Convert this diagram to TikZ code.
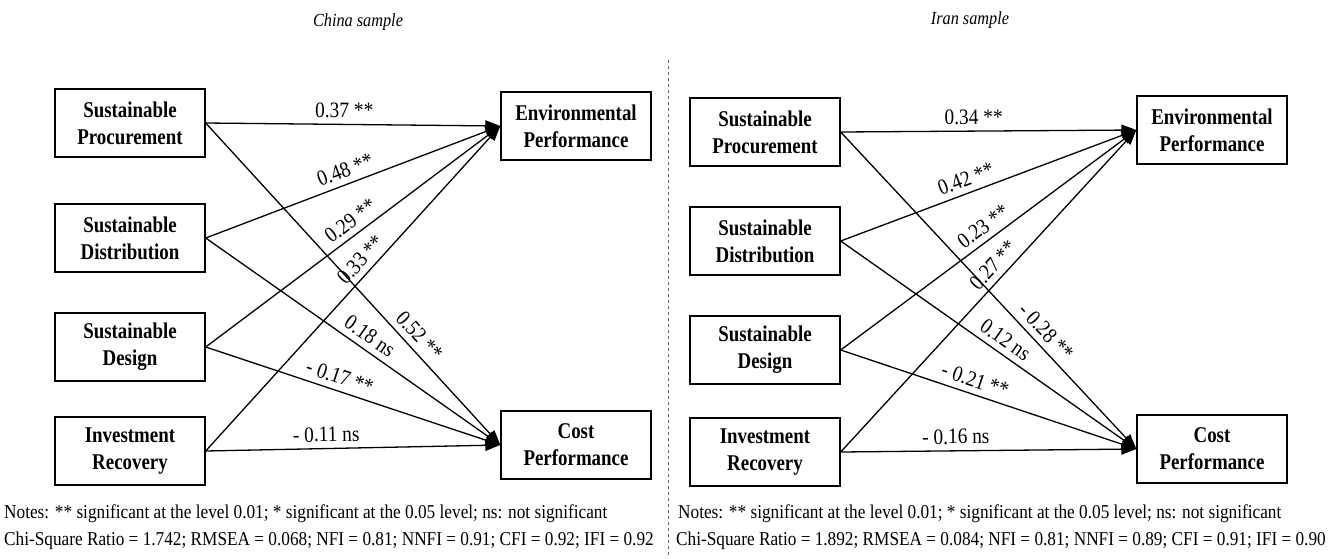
\documentclass[tikz,border=0pt]{standalone}
\usepackage{fontspec}
\setmainfont[FakeStretch=0.88]{Liberation Serif}
\newfontfamily\boxfont[FakeStretch=0.84]{Liberation Serif}
\usetikzlibrary{arrows.meta,positioning}

\begin{document}
\begin{tikzpicture}[x=1pt,y=-1pt,
    every node/.style={font=\fontsize{19.6}{22}\selectfont},
    factor/.style={draw,line width=1.4pt,minimum width=150pt,minimum height=68pt,
        align=center,font=\fontsize{22.5}{27}\boxfont\bfseries},
    link/.style={line width=1.3pt,-{Triangle[length=15pt,width=11pt]}},
    coef/.style={sloped,above=4pt,inner sep=2pt,font=\fontsize{22}{24}\selectfont},
    note/.style={anchor=west,inner sep=0pt}
    ]
    \useasboundingbox (0,0) rectangle (1341,558);

    % the titles
    \node[font=\fontsize{18.5}{20}\selectfont\itshape] (ta) at (358,22) {China sample};
    \node[font=\fontsize{18.5}{20}\selectfont\itshape] (tb) at (970,20) {Iran sample};

    % the China model
    \node[factor] (a1) at (130,123) {Sustainable\\Procurement};
    \node[factor] (a2) at (130,238) {Sustainable\\Distribution};
    \node[factor] (a3) at (130,347) {Sustainable\\Design};
    \node[factor] (a4) at (130,451) {Investment\\Recovery};
    \node[factor] (ae) at (576,126) {Environmental\\Performance};
    \node[factor] (ac) at (576,445) {Cost\\Performance};

    % the Iran model
    \node[factor] (b1) at (765,132) {Sustainable\\Procurement};
    \node[factor] (b2) at (765,241) {Sustainable\\Distribution};
    \node[factor] (b3) at (765,350) {Sustainable\\Design};
    \node[factor] (b4) at (765,452) {Investment\\Recovery};
    \node[factor] (be) at (1212,130) {Environmental\\Performance};
    \node[factor] (bc) at (1212,449) {Cost\\Performance};

    % the paths
    \foreach \s/\t/\p/\l in {a1/ae/0.47/{0.37 **}, a2/ae/0.49/{0.48 **},
        a3/ae/0.52/{0.29 **}, a4/ae/0.56/{0.33 **}, a1/ac/0.69/{0.52 **},
        a2/ac/0.53/{0.18 ns}, a3/ac/0.44/{- 0.17 **}, a4/ac/0.41/{- 0.11 ns},
        b1/be/0.45/{0.34 **}, b2/be/0.44/{0.42 **}, b3/be/0.51/{0.23 **},
        b4/be/0.55/{0.27 **}, b1/bc/0.66/{- 0.28 **}, b2/bc/0.53/{0.12 ns},
        b3/bc/0.44/{- 0.21 **}, b4/bc/0.39/{- 0.16 ns}}
    \draw[link] (\s.east) -- node[coef,pos=\p] {\l} (\t.west);

    % the separator
    \coordinate (d1) at (668,60);
    \coordinate (d2) at (668,558);
    \draw[dashed,line width=0.8pt,black!60] (d1) -- (d2);

    % the notes
    \node[note] (na1) at (4,514) {Notes: ** significant at the level 0.01; * significant at the 0.05 level; ns: not significant};
    \node[note] (na2) at (4,541) {Chi-Square Ratio = 1.742; RMSEA = 0.068; NFI = 0.81; NNFI = 0.91; CFI = 0.92; IFI = 0.92};
    \node[note] (nb1) at (678,514) {Notes: ** significant at the level 0.01; * significant at the 0.05 level; ns: not significant};
    \node[note] (nb2) at (676,541) {Chi-Square Ratio = 1.892; RMSEA = 0.084; NFI = 0.81; NNFI = 0.89; CFI = 0.91; IFI = 0.90};
\end{tikzpicture}
\end{document}
